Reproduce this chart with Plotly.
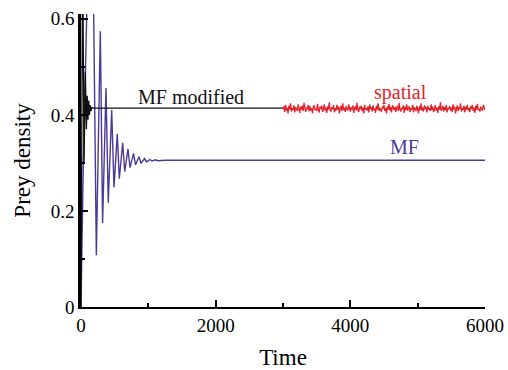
import plotly.graph_objects as go

# ---- data ----
mf_time = [0, 30, 85, 180, 228, 287, 321, 371, 405, 456, 490, 539, 569, 619, 649,
           698, 728, 780, 810, 861, 891, 943, 973, 1025, 1055, 1107, 1137, 1250, 6000]
mf_prey = [0.0, 0.265, 0.61, 0.72, 0.108, 0.574, 0.175, 0.456, 0.217, 0.41, 0.249, 0.36, 0.267,
           0.342, 0.282, 0.329, 0.290, 0.320, 0.296, 0.313, 0.299, 0.309, 0.302, 0.307,
           0.304, 0.3065, 0.3045, 0.3056, 0.3056]

mfmod_time = [0, 25, 45, 65, 80, 92, 104, 115, 126, 137, 148, 160, 175, 3000]
mfmod_prey = [0.0, 0.75, 0.30, 0.49, 0.37, 0.44, 0.39, 0.43, 0.40, 0.42, 0.408, 0.416, 0.414, 0.414]

spatial_prey = [
    0.412,0.418,0.406,0.421,0.409,0.415,0.403,0.419,0.411,0.424,0.407,0.414,0.410,0.420,0.405,0.416,0.412,0.408,0.422,0.413,
    0.404,0.417,0.411,0.419,0.408,0.425,0.410,0.406,0.415,0.412,0.421,0.407,0.418,0.409,0.414,0.403,0.416,0.420,0.410,0.413,
    0.408,0.423,0.411,0.405,0.417,0.413,0.419,0.406,0.412,0.422,0.409,0.415,0.404,0.418,0.411,0.426,0.410,0.407,0.416,0.412,
    0.420,0.405,0.414,0.409,0.421,0.411,0.417,0.403,0.413,0.419,0.408,0.424,0.410,0.415,0.406,0.418,0.412,0.409,0.422,0.414,
    0.407,0.416,0.411,0.420,0.404,0.413,0.418,0.409,0.425,0.410,0.406,0.417,0.412,0.419,0.408,0.415,0.403,0.421,0.411,0.414,
    0.409,0.418,0.405,0.422,0.412,0.416,0.407,0.420,0.410,0.413,0.404,0.419,0.411,0.424,0.408,0.415,0.412,0.406,0.417,0.413,
    0.421,0.408,0.414,0.403,0.418,0.411,0.423,0.409,0.416,0.405,0.420,0.412,0.410,0.417,0.406,0.414,0.419,0.408,0.425,0.411,
    0.407,0.415,0.412,0.420,0.404,0.417,0.410,0.422,0.409,0.413,0.418,0.406,0.414,0.411,0.421,0.405,0.416,0.412,0.408,0.419,
    0.413,0.403,0.418,0.410,0.424,0.409,0.415,0.407,0.420,0.412,0.416,0.405,0.419,0.411,0.414,0.408,0.422,0.410,0.417,0.406,
    0.412,0.420,0.409,0.415,0.404,0.418,0.411,0.426,0.408,0.413,0.419,0.407,0.416,0.410,0.421,0.405,0.414,0.412,0.418,0.409,
    0.415,0.406,0.422,0.411,0.417,0.403,0.413,0.420,0.408,0.416,0.412,0.424,0.407,0.414,0.410,0.419,0.405,0.417,0.411,0.421,
    0.409,0.414,0.406,0.418,0.412,0.420,0.408,0.415,0.404,0.419,0.411,0.423,0.410,0.413,0.407,0.417,0.412,0.409,0.421,0.413,
    0.410,
]
spatial_start = 3000
spatial_end = 6000
spatial_time = [spatial_start + i * (spatial_end - spatial_start) / (len(spatial_prey) - 1)
                for i in range(len(spatial_prey))]

x_ticks = [0, 2000, 4000, 6000]
x_tick_labels = ["0", "2000", "4000", "6000"]
y_ticks = [0, 0.2, 0.4, 0.6]
y_tick_labels = ["0", "0.2", "0.4", "0.6"]

labels = ["MF modified", "spatial", "MF"]
label_time = [1640, 4740, 4810]
label_prey = [0.437, 0.447, 0.333]

PURPLE = "#4b3a98"
RED = "#e2232b"
BLACK = "#111111"
FONT = "Liberation Serif"

fig = go.Figure()
fig.add_trace(go.Scatter(x=mf_time, y=mf_prey, mode="lines",
                         line=dict(color=PURPLE, width=1.4), showlegend=False))
fig.add_trace(go.Scatter(x=mfmod_time, y=mfmod_prey, mode="lines",
                         line=dict(color=BLACK, width=1.3), showlegend=False))
fig.add_trace(go.Scatter(x=spatial_time, y=spatial_prey, mode="lines",
                         line=dict(color=RED, width=1.3), showlegend=False))

for txt, tx, ty, col in zip(labels, label_time, label_prey, [BLACK, RED, PURPLE]):
    fig.add_annotation(x=tx, y=ty, text=txt, showarrow=False,
                       font=dict(family=FONT, size=20, color=col))

fig.update_layout(
    width=508, height=370,
    margin=dict(l=81, r=23, t=14, b=63),
    paper_bgcolor="white", plot_bgcolor="white",
    font=dict(family=FONT, size=19, color="black"),
)
fig.update_xaxes(
    range=[0, 6000], tickvals=x_ticks, ticktext=x_tick_labels,
    ticks="inside", ticklen=7, tickwidth=1.5, tickcolor="black",
    minor=dict(ticks="inside", ticklen=4, dtick=1000, tickwidth=1.5, tickcolor="black"),
    showline=True, linecolor="black", linewidth=2, showgrid=False, zeroline=False,
    title=dict(text="Time", font=dict(family=FONT, size=23), standoff=16),
    tickfont=dict(family=FONT, size=19),
    automargin=False,
)
fig.update_yaxes(
    range=[0, 0.61], tickvals=y_ticks, ticktext=y_tick_labels,
    ticks="inside", ticklen=7, tickwidth=1.5, tickcolor="black",
    minor=dict(ticks="inside", ticklen=4, dtick=0.1, tickwidth=1.5, tickcolor="black"),
    showline=True, linecolor="black", linewidth=2.5, showgrid=False, zeroline=False,
    title=dict(text="Prey density", font=dict(family=FONT, size=23), standoff=14),
    tickfont=dict(family=FONT, size=19),
    automargin=False,
)

fig.write_html("out.html", config={"displayModeBar": False},
               post_script="document.body.style.margin='0';document.body.style.overflow='hidden';")
